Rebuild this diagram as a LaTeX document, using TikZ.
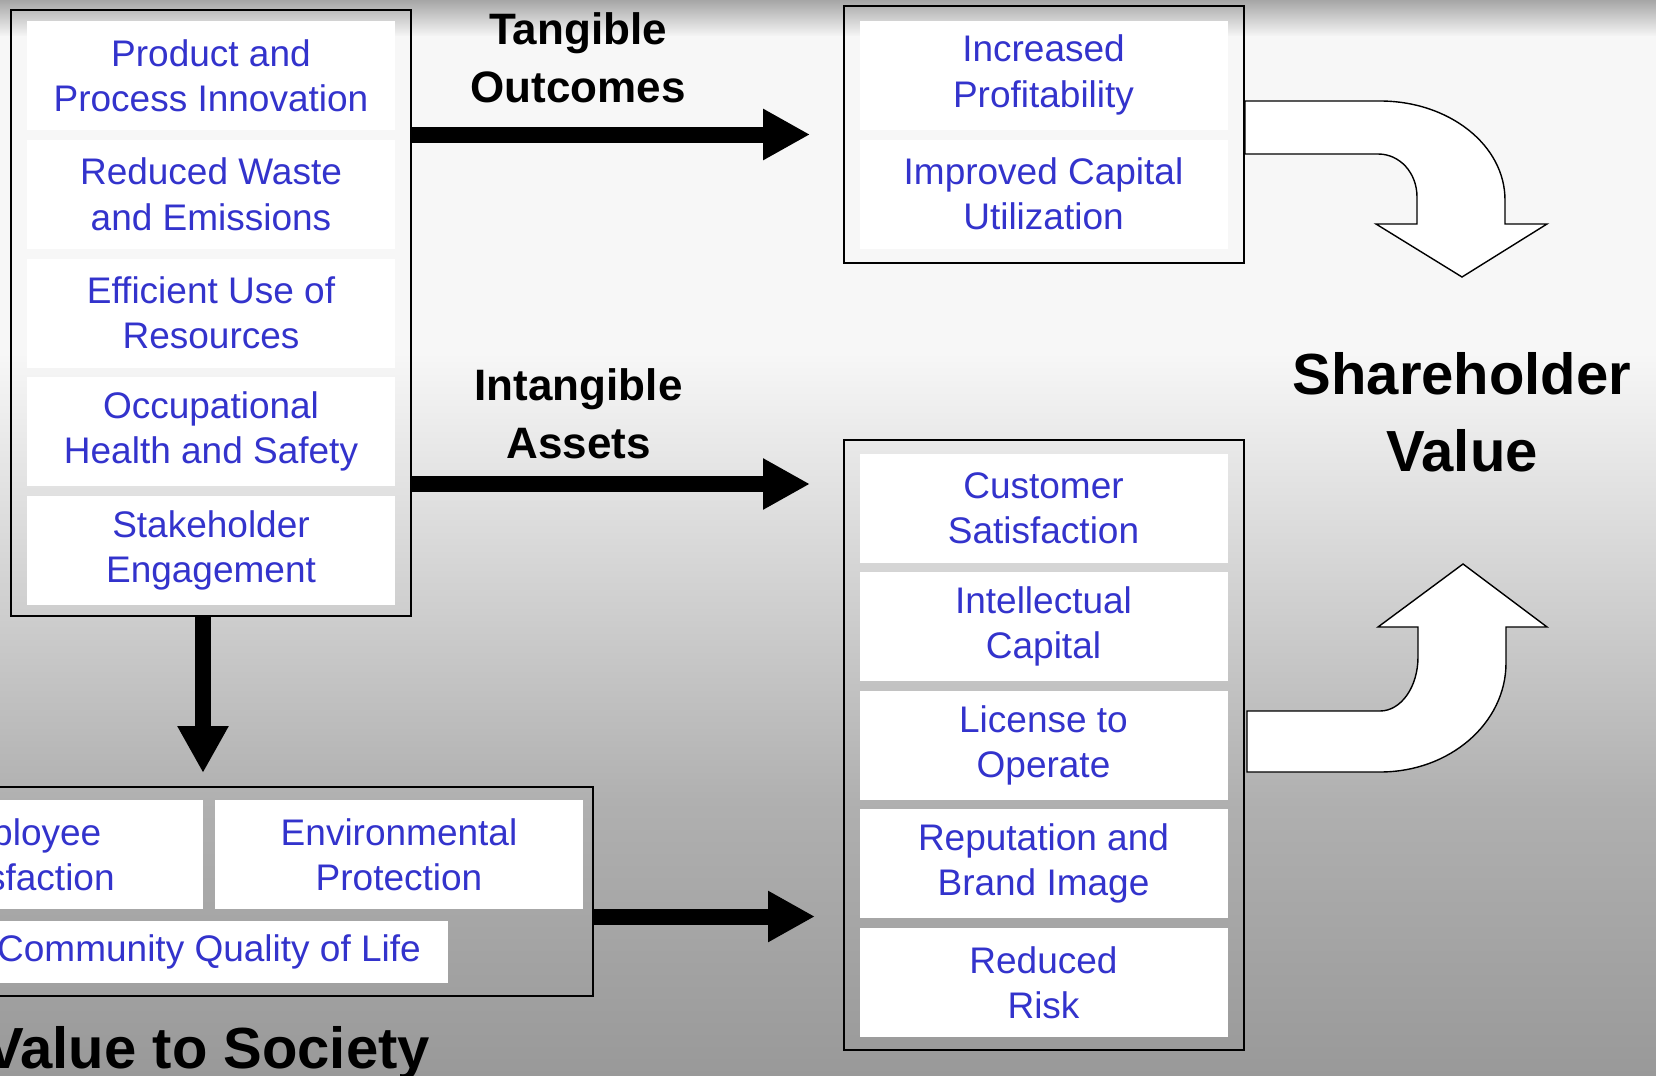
\documentclass[tikz,border=0pt]{standalone}
\usepackage{fontspec}
\setmainfont{Liberation Sans}
\usetikzlibrary{arrows.meta,positioning,fit}
\definecolor{itemblue}{RGB}{51,51,204}
\newcommand{\itemfont}{\fontsize{18.5pt}{22.6pt}\selectfont}
\newcommand{\headfont}{\fontsize{22pt}{29pt}\selectfont\bfseries}
\newcommand{\bigheadfont}{\fontsize{29pt}{38.5pt}\selectfont\bfseries}

\begin{document}
\begin{tikzpicture}[x=0.5pt,y=-0.5pt,
  itembox/.style={fill=white,text=itemblue,font=\itemfont,align=center,
    minimum width=184pt,minimum height=54.5pt,inner sep=0pt,outer sep=0pt},
  boxframe/.style={draw,line width=1pt,inner sep=0pt,inner xsep=8pt},
  headtext/.style={font=\headfont,align=center},
  bigarrow/.style={line width=8pt,-{Triangle[length=23.5pt,width=24pt]}},
  curvedarrow/.style={fill=white,draw,line width=0.7pt,line join=miter}]
\useasboundingbox (0,0) rectangle (1656,1076);
\clip (0,0) rectangle (1656,1076);
\shade[top color=black!35,bottom color=black!3] (0,0) rectangle (1656,37);
\fill[black!3] (0,36) rectangle (1656,351);
\shade[top color=black!3,bottom color=black!31] (0,350) rectangle (1656,801);
\shade[top color=black!31,bottom color=black!40] (0,800) rectangle (1656,1077);

\node[itembox] (p1) at (211,75.5) {Product and\\Process Innovation};
\node[itembox,below=4.875pt of p1] (p2) {Reduced Waste\\and Emissions};
\node[itembox,below=4.875pt of p2] (p3) {Efficient Use of\\Resources};
\node[itembox,below=4.875pt of p3] (p4) {Occupational\\Health and Safety};
\node[itembox,below=4.875pt of p4] (p5) {Stakeholder\\Engagement};
\node[boxframe,inner ysep=5.4pt,fit=(p1)(p5)] (lframe) {};

\node[itembox] (t1) at (1043.5,75) {Increased\\Profitability};
\node[itembox,below=5pt of t1] (t2) {Improved Capital\\Utilization};
\node[boxframe,inner ysep=7.3pt,fit=(t1)(t2)] (tframe) {};

\node[itembox] (i1) at (1043.5,508) {Customer\\Satisfaction};
\node[itembox,below=4.8pt of i1] (i2) {Intellectual\\Capital};
\node[itembox,below=4.8pt of i2] (i3) {License to\\Operate};
\node[itembox,below=4.8pt of i3] (i4) {Reputation and\\Brand Image};
\node[itembox,below=4.8pt of i4] (i5) {Reduced\\Risk};
\node[boxframe,inner ysep=6.7pt,fit=(i1)(i5)] (iframe) {};

\node[itembox] (e1) at (19,854.5) {Employee\\Satisfaction};
\node[itembox,right=6pt of e1] (e2) {Environmental\\Protection};
\node[itembox,minimum width=238.5pt,minimum height=31pt] (e3) at (209,952) {Community Quality of Life};
\node[boxframe,inner xsep=5pt,inner ysep=6.7pt,fit=(e1)(e2)(e3)] (sframe) {};

\node[headtext] (tang) at (578,58) {Tangible\\Outcomes};
\node[headtext] (intang) at (578.6,414) {Intangible\\Assets};
\node[font=\bigheadfont,align=center] (share) at (1462,412) {Shareholder\\Value};
\node[font=\bigheadfont,anchor=base east] (soc) at (437,1068) {Value to Society};

\coordinate (ia) at (810,484);
\coordinate (sa) at (815,916.5);
\coordinate (da) at (203,773);
\draw[bigarrow] (lframe.east |- tframe.west) -- ([xshift=-16.2pt]tframe.west);
\draw[bigarrow] (lframe.east |- ia) -- (ia);
\draw[bigarrow] (sframe.east |- sa) -- (sa);
\draw[bigarrow] (lframe.south -| da) -- (da);

\draw[curvedarrow] (1245,101) -- (1380,101)
  .. controls (1449,101) and (1505,145) .. (1505,200)
  -- (1505,224) -- (1547,224) -- (1462,277) -- (1376,224) -- (1417,224) -- (1417,197)
  .. controls (1417,173) and (1400,154) .. (1378,154)
  -- (1245,154) -- cycle;
\draw[curvedarrow] (1247,711) -- (1380,711)
  .. controls (1401,711) and (1418,687) .. (1418,657)
  -- (1418,627) -- (1378,627) -- (1463,564) -- (1547,627) -- (1506,627) -- (1506,663)
  .. controls (1506,723) and (1450,772) .. (1380,772)
  -- (1247,772) -- cycle;
\end{tikzpicture}
\end{document}
